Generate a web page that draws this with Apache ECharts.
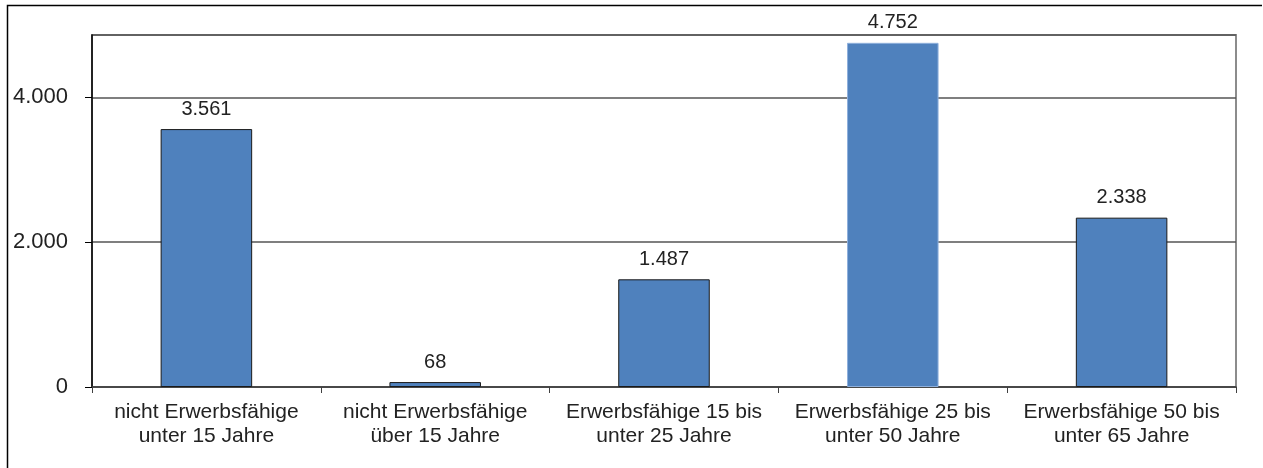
<!DOCTYPE html>
<html>
<head>
<meta charset="utf-8">
<script src="https://cdn.jsdelivr.net/npm/echarts@6/dist/echarts.min.js"></script>
<style>
  html, body { margin: 0; padding: 0; background: #fff; }
  #main { width: 1263px; height: 468px; }
</style>
</head>
<body>
<div id="main"></div>
<script>
// Kategorien (zweizeilig wie im Original)
var categories = [
  "nicht Erwerbsfähige\nunter 15 Jahre",
  "nicht Erwerbsfähige\nüber 15 Jahre",
  "Erwerbsfähige 15 bis\nunter 25 Jahre",
  "Erwerbsfähige 25 bis\nunter 50 Jahre",
  "Erwerbsfähige 50 bis\nunter 65 Jahre"
];
var values = [3561, 68, 1487, 4752, 2338];
var yTicks = [0, 2000, 4000];

// Zahlen mit Punkt als Tausendertrenner
function fmt(v) {
  return String(v).replace(/\B(?=(\d{3})+(?!\d))/g, ".");
}

var chart = echarts.init(document.getElementById("main"));
chart.setOption({
  animation: false,
  textStyle: { fontFamily: "Liberation Sans, Arial, sans-serif" },
  grid: {
    left: 92,
    right: 27,
    top: 35,
    bottom: 81,
    show: true,
    borderColor: "#8c8c8c",
    borderWidth: 2
  },
  graphic: [
    {
      // Rahmen links und oben
      type: "polyline",
      shape: { points: [[7.5, 470], [7.5, 5.5], [1262, 5.5]] },
      style: { fill: "none", stroke: "#000", lineWidth: 1.5 },
      silent: true
    }
  ],
  xAxis: {
    type: "category",
    data: categories,
    axisLine: { lineStyle: { color: "#404040", width: 1.5 } },
    axisTick: { show: true, length: 6, lineStyle: { color: "#404040" } },
    axisLabel: {
      margin: 13,
      fontSize: 21,
      lineHeight: 24,
      color: "#222",
      interval: 0
    }
  },
  yAxis: {
    type: "value",
    min: 0,
    max: 4860,
    interval: 2000,
    axisLine: { show: true, lineStyle: { color: "#000", width: 1.5 } },
    axisTick: { show: true, length: 7, lineStyle: { color: "#000" } },
    axisLabel: {
      margin: 24,
      fontSize: 22,
      color: "#222",
      showMaxLabel: false,
      formatter: function (v) {
        return yTicks.indexOf(v) >= 0 ? fmt(v) : "";
      }
    },
    splitLine: { lineStyle: { color: "#555", width: 1.5 } }
  },
  series: [
    {
      type: "bar",
      barWidth: "40%",
      data: values.map(function (v, i) {
        return {
          value: v,
          itemStyle: i === 3
            ? { borderColor: "#8fb0dc", borderWidth: 1 }
            : {}
        };
      }),
      itemStyle: {
        color: "#4f81bd",
        borderColor: "#1a1a1a",
        borderWidth: 1
      },
      label: {
        show: true,
        position: "top",
        distance: 10,
        fontSize: 20,
        color: "#222",
        formatter: function (p) { return fmt(p.value); }
      }
    }
  ]
});
</script>
</body>
</html>
